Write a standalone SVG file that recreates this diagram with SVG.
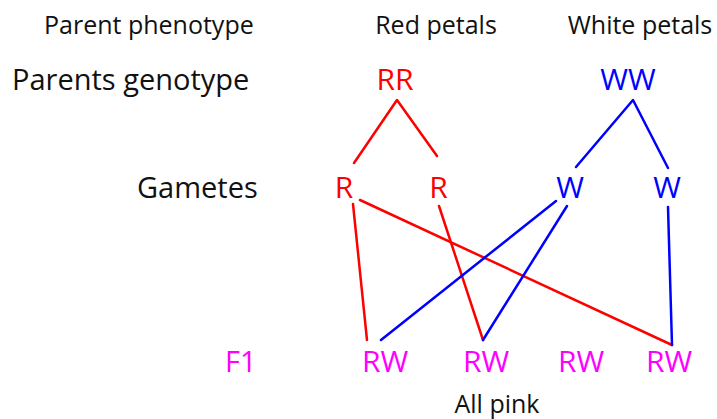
<svg xmlns="http://www.w3.org/2000/svg" width="717" height="419" viewBox="0 0 717 419">
<style>
text { font-family: "Open Sans", "Liberation Sans", sans-serif; }
.lbl { fill: #111; font-size: 25px; }
.big { fill: #111; font-size: 29px; }
.g { font-size: 30px; text-anchor: middle; }
.red { fill: #ff0000; }
.blue { fill: #0000ff; }
.pink { fill: #ff00ff; }
.lr { stroke: #ff0000; stroke-width: 2.5; fill: none; stroke-linecap: round; stroke-linejoin: round; }
.lb { stroke: #0000ff; stroke-width: 2.5; fill: none; stroke-linecap: round; stroke-linejoin: round; }
</style>
<rect width="717" height="419" fill="#ffffff"/>
<g id="labels">
<text class="lbl" x="44" y="34">Parent phenotype</text>
<text class="lbl" x="436" y="34" text-anchor="middle">Red petals</text>
<text class="lbl" x="640" y="34" text-anchor="middle">White petals</text>
<text class="big" x="12" y="90">Parents genotype</text>
<text class="big" x="137" y="198">Gametes</text>
<text class="big pink" x="225" y="372">F1</text>
<text class="lbl" x="497" y="413" text-anchor="middle">All pink</text>
</g>
<g id="parent-RR"><text class="g red" x="395" y="90">RR</text></g>
<g id="parent-WW"><text class="g blue" x="628" y="90">WW</text></g>
<g id="gamete-R1"><text class="g red" x="344" y="198">R</text></g>
<g id="gamete-R2"><text class="g red" x="438.5" y="198">R</text></g>
<g id="gamete-W1"><text class="g blue" x="570" y="198">W</text></g>
<g id="gamete-W2"><text class="g blue" x="667" y="198">W</text></g>
<g id="f1-RW1"><text class="g pink" x="385" y="372">RW</text></g>
<g id="f1-RW2"><text class="g pink" x="486" y="372">RW</text></g>
<g id="f1-RW3"><text class="g pink" x="581" y="372">RW</text></g>
<g id="f1-RW4"><text class="g pink" x="669" y="372">RW</text></g>
<g id="connectors">
<polyline class="lr" points="354,163 397,100 437,156"/>
<polyline class="lb" points="576,167 633,100 668,168"/>
<line class="lr" x1="353" y1="204" x2="367" y2="340"/>
<line class="lr" x1="360" y1="200" x2="672" y2="345"/>
<line class="lr" x1="439" y1="206" x2="483" y2="340"/>
<line class="lb" x1="556" y1="201" x2="381" y2="340"/>
<line class="lb" x1="567" y1="206" x2="483" y2="340"/>
<line class="lb" x1="668" y1="207" x2="672" y2="345"/>
</g>
</svg>
